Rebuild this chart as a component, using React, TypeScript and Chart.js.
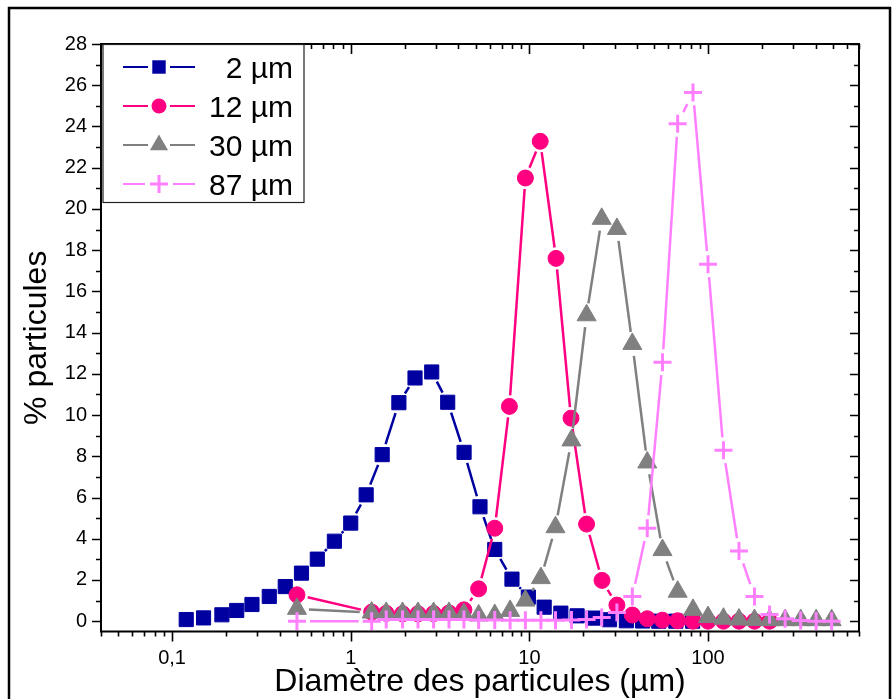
import React, { useEffect, useRef } from 'react';
import { Chart, registerables } from 'chart.js';

Chart.register(...registerables);

const FONT = '"Liberation Sans", Arial, Helvetica, sans-serif';

// ---------- data ----------
const SERIES_LABELS = ['2 µm', '12 µm', '30 µm', '87 µm'];
const SERIES_COLORS = ['#0000A0', '#FF0080', '#808080', '#FF80FF'];

const X_2UM = [0.12, 0.15, 0.19, 0.23, 0.28, 0.35, 0.43, 0.53, 0.65, 0.81, 1.0, 1.22, 1.5, 1.86, 2.29, 2.84, 3.49, 4.31, 5.29, 6.4, 7.99, 9.87, 12.1, 15.0, 18.5, 22.7, 28.1, 34.9, 43, 53, 66, 82];
const Y_2UM = [0.08, 0.16, 0.31, 0.52, 0.81, 1.2, 1.68, 2.33, 3.01, 3.88, 4.76, 6.13, 8.08, 10.6, 11.8, 12.09, 10.62, 8.19, 5.55, 3.48, 2.04, 1.17, 0.68, 0.39, 0.26, 0.15, 0.07, 0.02, 0.01, 0, 0, 0];

const X_12UM = [0.5, 1.31, 1.58, 1.95, 2.38, 2.91, 3.55, 4.3, 5.2, 6.4, 7.73, 9.5, 11.5, 14.1, 17.1, 20.9, 25.5, 30.9, 37.7, 45.7, 55.6, 67.6, 82.4, 100, 122, 149, 182, 221];
const Y_12UM = [1.28, 0.44, 0.38, 0.36, 0.36, 0.37, 0.4, 0.55, 1.57, 4.51, 10.42, 21.5, 23.28, 17.6, 9.85, 4.71, 1.98, 0.78, 0.3, 0.12, 0.05, 0.02, 0, 0, 0, 0, 0, 0];

const X_30UM = [0.5, 1.31, 1.58, 1.95, 2.38, 2.91, 3.55, 4.3, 5.2, 6.4, 7.8, 9.5, 11.6, 14.0, 17.2, 20.9, 25.4, 30.9, 37.7, 45.7, 55.6, 67.6, 82.4, 100, 122, 149, 182, 221, 270, 330, 403, 492];
const Y_30UM = [0.6, 0.42, 0.4, 0.4, 0.4, 0.4, 0.4, 0.35, 0.28, 0.3, 0.5, 1.0, 2.09, 4.56, 8.77, 14.84, 19.52, 19.03, 13.45, 7.7, 3.45, 1.43, 0.55, 0.2, 0.12, 0.08, 0.06, 0.05, 0.05, 0.05, 0.05, 0.05];

const X_87UM = [0.5, 1.31, 1.58, 1.95, 2.38, 2.91, 3.55, 4.3, 5.2, 6.4, 7.8, 9.5, 11.6, 14.0, 17.2, 20.9, 25.4, 30.9, 37.7, 45.7, 55.6, 67.6, 82.4, 100, 122, 149, 182, 221, 270, 330, 403, 492];
const Y_87UM = [0, 0, 0.08, 0.08, 0.08, 0.08, 0.08, 0.08, 0.06, 0.06, 0.05, 0.05, 0.05, 0.05, 0.06, 0.08, 0.18, 0.42, 1.2, 4.51, 12.56, 24.13, 25.65, 17.32, 8.29, 3.4, 1.2, 0.33, 0.12, 0.03, 0, 0];

const X_TICKS = [0.1, 1, 10, 100];
const X_TICK_LABELS = ['0,1', '1', '10', '100'];
const Y_TICKS = [0, 2, 4, 6, 8, 10, 12, 14, 16, 18, 20, 22, 24, 26, 28];

const X_MIN = 0.04;
const X_MAX = 700;
const Y_MIN = -0.5;
const Y_MAX = 28;

const X_TITLE = 'Diamètre des particules (µm)';
const Y_TITLE = '% particules';

// ---------- styles ----------
const POINT_STYLES = ['rect', 'circle', 'triangle', 'cross'];
const POINT_RADII = [10, 8, 11, 9];
const POINT_BORDER = [1, 1, 1, 3];
const LINE_GAPS = [11, 11, 12, 13];

const gapSegment = (gap: number) => ({
  borderDash: (ctx: any) => {
    const L = Math.hypot(ctx.p1.x - ctx.p0.x, ctx.p1.y - ctx.p0.y);
    if (L <= 2 * gap) return [0, L + 1000];
    return [0, gap, L - 2 * gap, gap + 1000];
  },
});

function zip(xs: number[], ys: number[]) {
  return xs.map((x, i) => ({ x, y: ys[i] }));
}

const SERIES_X = [X_2UM, X_12UM, X_30UM, X_87UM];
const SERIES_Y = [Y_2UM, Y_12UM, Y_30UM, Y_87UM];

function drawMarker(ctx: CanvasRenderingContext2D, style: string, x: number, y: number, r: number, color: string) {
  ctx.save();
  ctx.fillStyle = color;
  ctx.strokeStyle = color;
  ctx.beginPath();
  if (style === 'rect') {
    const s = Math.SQRT1_2 * r;
    ctx.rect(x - s, y - s, 2 * s, 2 * s);
    ctx.fill();
  } else if (style === 'circle') {
    ctx.arc(x, y, r, 0, Math.PI * 2);
    ctx.fill();
  } else if (style === 'triangle') {
    ctx.moveTo(x, y - r);
    ctx.lineTo(x + Math.sin(Math.PI * 2 / 3) * r, y - Math.cos(Math.PI * 2 / 3) * r);
    ctx.lineTo(x - Math.sin(Math.PI * 2 / 3) * r, y - Math.cos(Math.PI * 2 / 3) * r);
    ctx.closePath();
    ctx.fill();
  } else {
    ctx.lineWidth = 3;
    ctx.moveTo(x - r, y);
    ctx.lineTo(x + r, y);
    ctx.moveTo(x, y - r);
    ctx.lineTo(x, y + r);
    ctx.stroke();
  }
  ctx.restore();
}

const framePlugin = {
  id: 'frame',
  beforeDraw(chart: any) {
    const ctx = chart.ctx as CanvasRenderingContext2D;
    ctx.save();
    ctx.strokeStyle = '#000';
    ctx.lineWidth = 2.5;
    ctx.strokeRect(9, 8, 881, 720);
    ctx.restore();
  },
  afterDatasetsDraw(chart: any) {
    const ctx = chart.ctx as CanvasRenderingContext2D;
    const a = chart.chartArea;
    const xs = chart.scales.x;
    const ys = chart.scales.y;
    ctx.save();
    ctx.strokeStyle = '#000';
    ctx.lineWidth = 1.6;
    ctx.beginPath();
    for (let v = 0; v <= Y_MAX; v++) {
      const py = Math.round(ys.getPixelForValue(v)) + 0.5;
      const len = v % 2 === 0 ? 9 : 5;
      ctx.moveTo(a.left, py);
      ctx.lineTo(a.left - len, py);
      ctx.moveTo(a.right, py);
      ctx.lineTo(a.right - len, py);
    }
    for (let d = 0.01; d < X_MAX * 1.01; d *= 10) {
      for (let m = 1; m <= 9; m++) {
        const v = +(m * d).toPrecision(6);
        if (v < X_MIN * 0.999 || v > X_MAX * 1.001) continue;
        const px = Math.round(xs.getPixelForValue(v)) + 0.5;
        const len = m === 1 ? 10 : 5;
        ctx.moveTo(px, a.bottom);
        ctx.lineTo(px, a.bottom + len);
        ctx.moveTo(px, a.top);
        ctx.lineTo(px, a.top + len);
      }
    }
    ctx.stroke();
    ctx.lineWidth = 2;
    ctx.strokeRect(a.left, a.top, a.right - a.left, a.bottom - a.top);
    ctx.restore();
  },
  afterDraw(chart: any) {
    const ctx = chart.ctx as CanvasRenderingContext2D;
    ctx.save();
    // legend box
    ctx.fillStyle = '#fff';
    ctx.fillRect(103, 45, 201, 157);
    ctx.strokeStyle = '#222';
    ctx.lineWidth = 1.2;
    ctx.strokeRect(103, 44.5, 201, 158);
    const rows = [67, 106, 145, 184];
    const cx = 159;
    SERIES_LABELS.forEach((label, i) => {
      const y = rows[i];
      const c = SERIES_COLORS[i];
      const g = i === 3 ? 14 : 11;
      ctx.strokeStyle = c;
      ctx.lineWidth = 2.2;
      ctx.beginPath();
      ctx.moveTo(123, y);
      ctx.lineTo(cx - g, y);
      ctx.moveTo(cx + g, y);
      ctx.lineTo(195, y);
      ctx.stroke();
      drawMarker(ctx, POINT_STYLES[i], cx, y, [9.5, 7.5, 10.5, 9][i], c);
      ctx.fillStyle = '#000';
      ctx.font = `30px ${FONT}`;
      ctx.textAlign = 'right';
      ctx.textBaseline = 'middle';
      ctx.fillText(label, 293, y + 3);
    });
    ctx.restore();
  },
};

export default function App() {
  const ref = useRef<HTMLCanvasElement>(null);

  useEffect(() => {
    const canvas = ref.current;
    if (!canvas) return;
    const datasets = SERIES_LABELS.map((label, i) => ({
      label,
      data: zip(SERIES_X[i], SERIES_Y[i]),
      borderColor: SERIES_COLORS[i],
      backgroundColor: SERIES_COLORS[i],
      borderWidth: 2.5,
      pointStyle: POINT_STYLES[i],
      pointRadius: POINT_RADII[i],
      pointBorderWidth: POINT_BORDER[i],
      pointBackgroundColor: SERIES_COLORS[i],
      pointBorderColor: SERIES_COLORS[i],
      tension: 0,
      fill: false,
      order: 3 - i,
      clip: 20,
      segment: gapSegment(LINE_GAPS[i]),
    }));

    const chart = new Chart(canvas, {
      type: 'line',
      data: { datasets },
      plugins: [framePlugin],
      options: {
        responsive: false,
        maintainAspectRatio: false,
        animation: false,
        events: [],
        layout: { padding: { top: 44, right: 37, bottom: 0, left: 0 } },
        plugins: {
          legend: { display: false },
          tooltip: { enabled: false },
          title: { display: false },
        },
        scales: {
          x: {
            type: 'logarithmic',
            min: X_MIN,
            max: X_MAX,
            grid: { display: false, drawTicks: false },
            border: { display: false },
            afterBuildTicks: (s: any) => {
              s.ticks = X_TICKS.map((v) => ({ value: v }));
            },
            afterFit: (s: any) => {
              s.height = 699 - 631.5;
            },
            ticks: {
              autoSkip: false,
              maxRotation: 0,
              padding: 15,
              color: '#000',
              font: { family: FONT, size: 20 },
              callback: (v: any) => {
                const idx = X_TICKS.findIndex((t) => Math.abs(Math.log10(t) - Math.log10(Number(v))) < 1e-6);
                return idx >= 0 ? X_TICK_LABELS[idx] : '';
              },
            },
            title: {
              display: true,
              text: X_TITLE,
              color: '#000',
              font: { family: FONT, size: 32, lineHeight: 1 },
              padding: { top: 0, bottom: 1 },
            },
          },
          y: {
            type: 'linear',
            min: Y_MIN,
            max: Y_MAX,
            grid: { display: false, drawTicks: false },
            border: { display: false },
            afterBuildTicks: (s: any) => {
              s.ticks = Y_TICKS.map((v) => ({ value: v }));
            },
            afterFit: (s: any) => {
              s.width = 101;
            },
            ticks: {
              padding: 14,
              color: '#000',
              font: { family: FONT, size: 20 },
              callback: (v: any) => String(v),
            },
            title: {
              display: true,
              text: Y_TITLE,
              color: '#000',
              font: { family: FONT, size: 32, lineHeight: 1 },
              padding: { top: 21, bottom: 0 },
            },
          },
        },
      },
    } as any);
    return () => chart.destroy();
  }, []);

  return (
    <div style={{ position: 'absolute', left: 0, top: 0, width: 896, height: 699, overflow: 'hidden', background: '#fff' }}>
      <canvas ref={ref} width={896} height={699} style={{ display: 'block', width: 896, height: 699 }} />
    </div>
  );
}
